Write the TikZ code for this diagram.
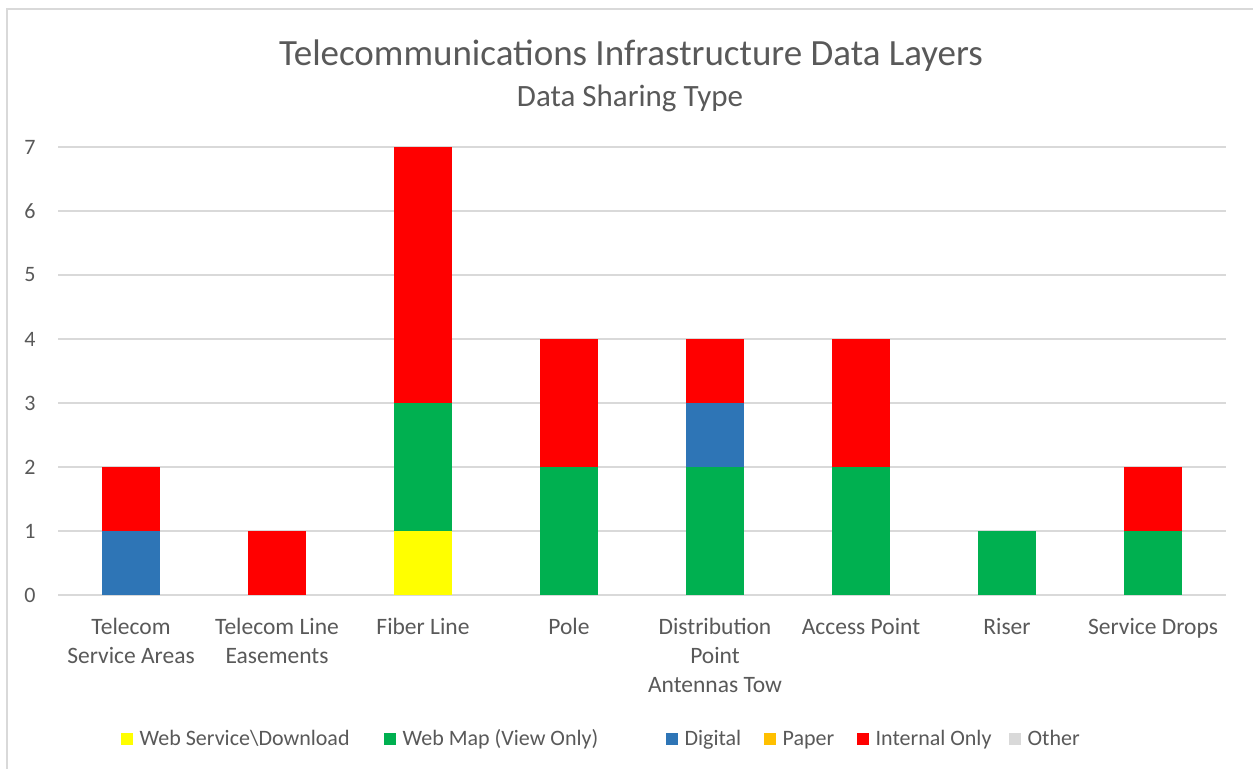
\documentclass[tikz,border=0pt]{standalone}
\usepackage{fontspec}
\setmainfont{Carlito}
\definecolor{webserv}{HTML}{FFFF00}
\definecolor{webmap}{HTML}{00B050}
\definecolor{digital}{HTML}{2E75B6}
\definecolor{paper}{HTML}{FFC000}
\definecolor{internal}{HTML}{FF0000}
\definecolor{other}{HTML}{D9D9D9}
\definecolor{txtgray}{HTML}{595959}
\tikzset{
	grid line/.style={draw=other,line width=1.3pt},
	tick label/.style={text=txtgray,font=\fontsize{22}{26}\selectfont,inner sep=0pt},
	cat label/.style={text=txtgray,font=\fontsize{23.5}{29}\selectfont,align=center,anchor=north,inner sep=0pt},
	legend key/.style={minimum size=12pt,inner sep=0pt,anchor=west},
	legend text/.style={text=txtgray,font=\fontsize{22}{26}\selectfont,inner sep=0pt,anchor=base west}
}
\begin{document}
\begin{tikzpicture}[x=1pt,y=-1pt]
\useasboundingbox (0,0) rectangle (1253,769);
\fill[white] (0,0) rectangle (1253,769);
\draw[other,line width=1.3pt] (1253,9) -- (7,9) -- (7,769);
\node[text=txtgray,font=\fontsize{37}{42}\selectfont] (title) at (631,56) {Telecommunications Infrastructure Data Layers};
\node[text=txtgray,font=\fontsize{31}{36}\selectfont] (subtitle) at (630,98) {Data Sharing Type};
\foreach \v in {0,...,7}{
	\coordinate (G\v) at (58,595-64*\v);
	\draw[grid line] (G\v) -- ++(1168,0);
	\node[tick label] (tick\v) at (30,595-64*\v) {\v};
}
\foreach \i/\a/\b/\c in {1/0/1/digital,1/1/2/internal,2/0/1/internal,3/0/1/webserv,3/1/3/webmap,3/3/7/internal,4/0/2/webmap,4/2/4/internal,5/0/2/webmap,5/2/3/digital,5/3/4/internal,6/0/2/webmap,6/2/4/internal,7/0/1/webmap,8/0/1/webmap,8/1/2/internal}{
	\fill[\c] (131+146*\i-146-29,595-64*\a) rectangle ++(58,-64*\b+64*\a);
}
\foreach \i/\t in {1/{Telecom\\Service Areas},2/{Telecom Line\\Easements},3/{Fiber Line},4/{Pole},5/{Distribution\\Point\\Antennas Tow},6/{Access Point},7/{Riser},8/{Service Drops}}{
	\node[cat label] (cat\i) at (131+146*\i-146,618) {\t};
}
\foreach \n/\x/\c/\t in {ws/121/webserv/{Web Service\textbackslash Download},wm/384/webmap/{Web Map (View Only)},dg/666/digital/{Digital},pp/764/paper/{Paper},io/857/internal/{Internal Only},ot/1009/other/{Other}}{
	\node[legend key,fill=\c] (key\n) at (\x,739) {};
	\node[legend text] (leg\n) at ([xshift=6pt,yshift=-0.5pt]key\n.south east) {\t};
}
\end{tikzpicture}
\end{document}
